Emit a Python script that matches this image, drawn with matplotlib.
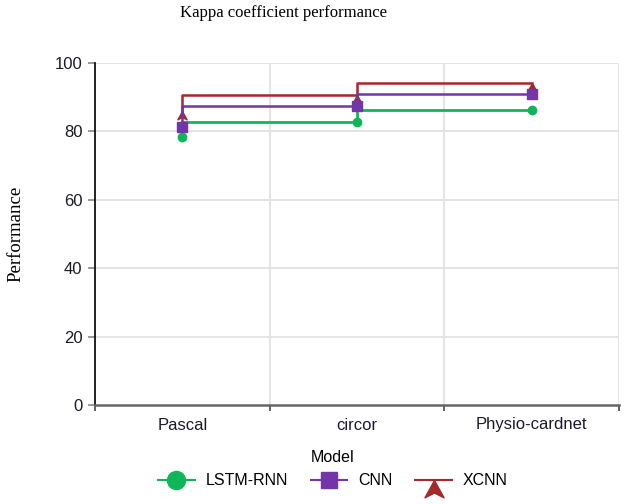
import matplotlib
matplotlib.use("Agg")
import matplotlib.pyplot as plt
from matplotlib.path import Path
from matplotlib.lines import Line2D
import numpy as np

categories = ["Pascal", "circor", "Physio-cardnet"]
lstm_rnn = [78.5, 82.8, 86.4]
cnn = [81.3, 87.5, 90.8]
xcnn = [86.0, 90.6, 94.2]
series_names = ["LSTM-RNN", "CNN", "XCNN"]
y_ticks = [0, 20, 40, 60, 80, 100]

green = "#11b559"
purple = "#7236a8"
red = "#a5282a"

arrow = Path([(0, 0), (0.55, -1.0), (0, -0.72), (-0.55, -1.0), (0, 0)],
             [Path.MOVETO, Path.LINETO, Path.LINETO, Path.LINETO, Path.CLOSEPOLY])

fig = plt.figure(figsize=(6.24, 5.04), dpi=100)
ax = fig.add_axes([95 / 624, 1 - 405 / 504, 524 / 624, 342 / 504])

x = np.arange(len(categories))
ax.plot(x, lstm_rnn, drawstyle="steps-pre", color=green, lw=2.0, marker="o",
        markersize=6, zorder=3)
ax.plot(x, cnn, drawstyle="steps-pre", color=purple, lw=1.8, marker="s",
        markersize=6.5, zorder=4)
ax.plot(x, xcnn, drawstyle="steps-pre", color=red, lw=1.8, marker=arrow,
        markersize=12, zorder=2)

ax.set_xlim(-0.5, len(categories) - 0.5)
ax.set_ylim(0, 100)
ax.set_yticks(y_ticks)
ax.set_xticks(x)
ax.set_xticklabels(categories)
ax.set_xticks(np.arange(len(categories) + 1) - 0.5, minor=True)

ax.grid(False)
for v in y_ticks[1:]:
    ax.axhline(v, color="#e2e2e2", lw=1.3, zorder=0)
for b in np.arange(1, len(categories) + 1) - 0.5:
    ax.axvline(b, color="#e2e2e2", lw=1.3, zorder=0)

for s in ["top", "right"]:
    ax.spines[s].set_visible(False)
ax.spines["left"].set_color("#111111")
ax.spines["left"].set_linewidth(1.3)
ax.spines["bottom"].set_color("#666666")
ax.spines["bottom"].set_linewidth(1.8)

ax.tick_params(axis="y", length=5, width=1.2, color="#888888", labelsize=12,
               labelcolor="#1a1a2a", pad=4)
ax.tick_params(axis="x", which="major", length=0, labelsize=12,
               labelcolor="#1a1a2a", pad=9)
ax.tick_params(axis="x", which="minor", length=4, width=1.3, color="#555555")
for lab in ax.get_xticklabels() + ax.get_yticklabels():
    lab.set_fontfamily(["Liberation Sans", "DejaVu Sans"])

ax.set_ylabel("Performance", fontfamily=["Liberation Serif", "DejaVu Serif"],
              fontsize=13.5, labelpad=22)
fig.text(284 / 624, 1 - 13 / 504, "Kappa coefficient performance",
         fontfamily=["Liberation Serif", "DejaVu Serif"], fontsize=12,
         ha="center", va="center")

handles = [
    Line2D([], [], color=green, lw=1.5, marker="o", markersize=13,
           markerfacecolor=green, markeredgecolor=green),
    Line2D([], [], color=purple, lw=1.5, marker="s", markersize=11.5,
           markerfacecolor=purple, markeredgecolor=purple),
    Line2D([], [], color=red, lw=1.5, marker=arrow, markersize=25,
           markerfacecolor=red, markeredgecolor=red),
]
leg = fig.legend(handles, series_names, loc="upper center",
                 bbox_to_anchor=(333 / 624, 1 - 436 / 504), ncol=3,
                 frameon=False, title="Model", handlelength=2.3,
                 handletextpad=0.7, columnspacing=1.4,
                 prop={"family": ["Liberation Sans", "DejaVu Sans"], "size": 11.5},
                 title_fontproperties={"family": ["Liberation Sans", "DejaVu Sans"],
                                       "size": 11.5})

fig.savefig("out.png", dpi=100)
